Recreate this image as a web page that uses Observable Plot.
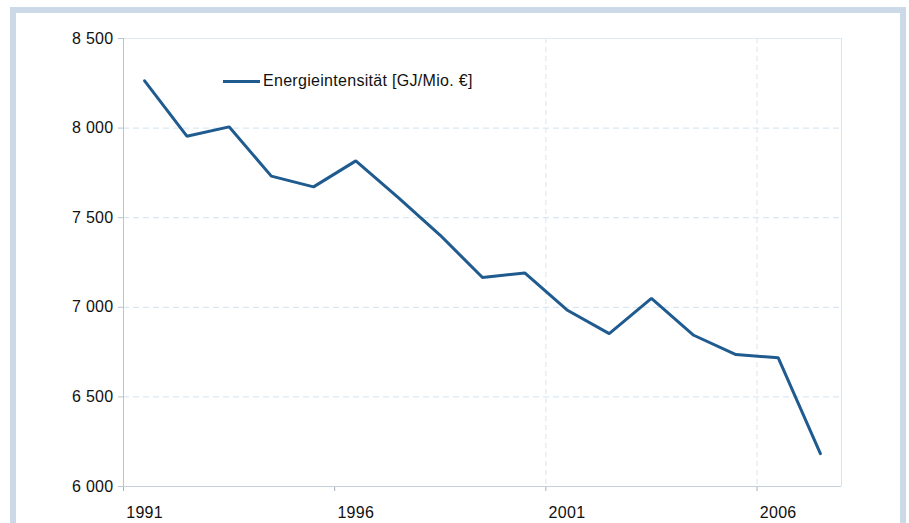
<!DOCTYPE html>
<html>
<head>
<meta charset="utf-8">
<script src="https://cdn.jsdelivr.net/npm/d3@7"></script>
<script src="https://cdn.jsdelivr.net/npm/@observablehq/plot@0.6"></script>
<style>
  html, body { margin: 0; padding: 0; background: #fff; width: 909px; height: 523px; overflow: hidden; }
  #frame { position: absolute; left: 10px; top: 7px; width: 884px; height: 600px;
           border: 6px solid #cbdae6; border-bottom: none; }
  #chart { position: absolute; left: 0; top: 0; }
  #legend { position: absolute; left: 223px; top: 72px; font-family: "Liberation Sans", Arial, sans-serif;
            font-size: 16px; letter-spacing: 0.3px; color: #111; display: flex; align-items: center; white-space: nowrap; }
  #legend .sw { display: inline-block; width: 37px; height: 3px; background: #1f5b8e; margin-right: 3px; }
</style>
</head>
<body>
<div id="frame"></div>
<div id="chart"></div>
<div id="legend"><span class="sw"></span><span id="legtext"></span></div>
<script>
const years = [1991,1992,1993,1994,1995,1996,1997,1998,1999,2000,2001,2002,2003,2004,2005,2006,2007];
const energyIntensity = [8264,7955,8007,7732,7672,7817,7614,7402,7166,7192,6985,6853,7050,6844,6736,6719,6183];
const seriesName = "Energieintensität [GJ/Mio. €]";
const yTicks = [6000,6500,7000,7500,8000,8500];
const yTickLabels = ["6 000","6 500","7 000","7 500","8 000","8 500"];
const xLabelYears = [1991,1996,2001,2006];
const xBoundaries = [1990.5,1995.5,2000.5,2005.5];
const xGridLines = [2000.5,2005.5];
const yGridLines = [6500,7000,7500,8000];

const data = years.map((y, i) => ({year: y, value: energyIntensity[i]}));
document.getElementById("legtext").textContent = seriesName;

const chart = Plot.plot({
  width: 909,
  height: 523,
  marginLeft: 123,
  marginRight: 68,
  marginTop: 38,
  marginBottom: 37,
  style: {fontFamily: "Liberation Sans, Arial, sans-serif", fontSize: "16px", letterSpacing: "0.3px", color: "#111", background: "transparent"},
  x: {domain: [1990.5, 2007.5]},
  y: {domain: [6000, 8500]},
  marks: [
    Plot.ruleY(yGridLines, {stroke: "#cfe2f0", strokeDasharray: "6,4", strokeWidth: 1}),
    Plot.ruleX(xGridLines, {stroke: "#d6e6f2", strokeDasharray: "5,4", strokeWidth: 1}),
    Plot.ruleY([8500], {stroke: "#e2eaf1"}),
    Plot.ruleX([2007.5], {stroke: "#d6e3ee"}),
    Plot.axisY({ticks: yTicks, tickFormat: d => yTickLabels[yTicks.indexOf(d)], tickSize: 5, tickPadding: 5, stroke: "#b8c4d0", label: null}),
    Plot.axisX({ticks: xBoundaries, tickFormat: () => "", tickSize: 5, stroke: "#a4b0bc", label: null}),
    Plot.axisX({ticks: xLabelYears, tickFormat: d => String(d), tickSize: 0, tickPadding: 20, label: null}),
    Plot.ruleX([1990.5], {stroke: "#b8c4d0"}),
    Plot.ruleY([6000], {stroke: "#c4d0dc"}),
    Plot.line(data, {x: "year", y: "value", stroke: "#1f5b8e", strokeWidth: 3, strokeLinejoin: "miter"})
  ]
});
document.getElementById("chart").appendChild(chart);
</script>
</body>
</html>
